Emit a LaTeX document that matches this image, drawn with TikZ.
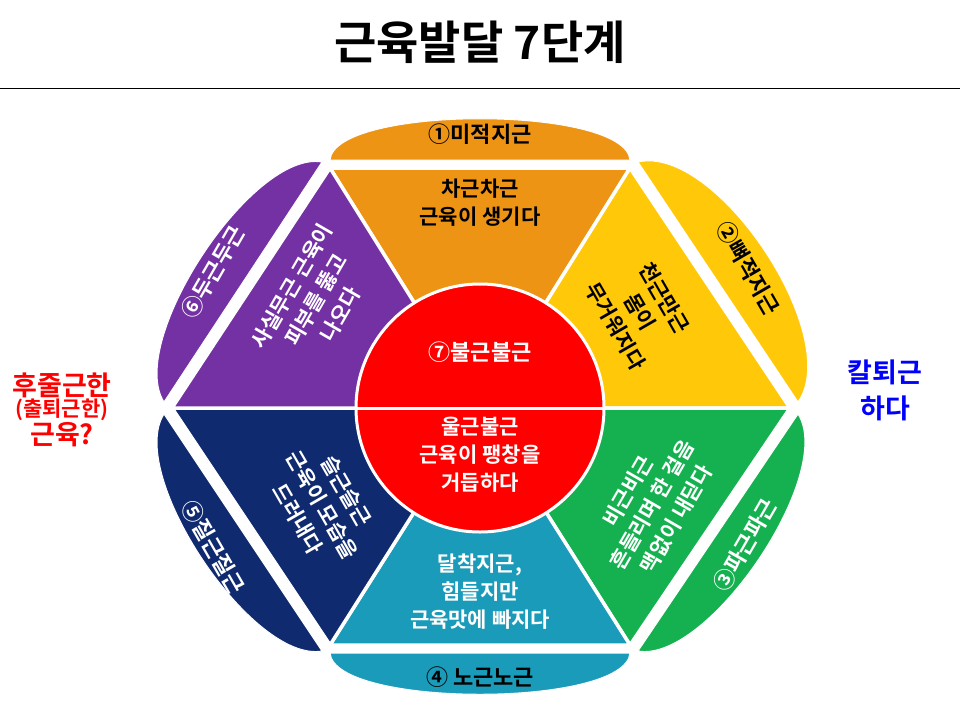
\documentclass[tikz,border=0pt]{standalone}
\usepackage{fontspec}
\setmainfont{Noto Sans CJK KR Bold}
\begin{document}
\begin{tikzpicture}[x=1pt,y=-1pt,
  seg/.style={draw=white,line width=3.5pt,line join=round},
  capshape/.style={draw=white,line width=1pt},
  lbl/.style={align=center,font=\fontsize{21}{28}\selectfont,inner sep=0pt},
  cl/.style={font=\fontsize{22}{26}\selectfont,inner sep=0pt}]
\definecolor{cor}{HTML}{EE9414}
\definecolor{cye}{HTML}{FFC90A}
\definecolor{cgr}{HTML}{15B150}
\definecolor{cte}{HTML}{1A9BBA}
\definecolor{cnv}{HTML}{0F2A6E}
\definecolor{cpu}{HTML}{7331A3}
\useasboundingbox (0,0) rectangle (960,720);
\fill[white] (0,0) rectangle (960,720);
\node[font=\fontsize{46}{50}\selectfont] (title) at (480,42) {근육발달 7단계};
\draw[line width=0.8pt] (0,88) -- (960,88);
% triangles
\coordinate (O) at (480,408);
\coordinate (V1) at (330,168); \coordinate (V2) at (630,168);
\coordinate (V3) at (790,408); \coordinate (V4) at (630,645);
\coordinate (V5) at (330,645); \coordinate (V6) at (172,408);
\fill[cor,seg] (O)--(V1)--(V2)--cycle;
\fill[cye,seg] (O)--(V2)--(V3)--cycle;
\fill[cgr,seg] (O)--(V3)--(V4)--cycle;
\fill[cte,seg] (O)--(V4)--(V5)--cycle;
\fill[cnv,seg] (O)--(V5)--(V6)--cycle;
\fill[cpu,seg] (O)--(V6)--(V1)--cycle;
% caps
\fill[cor,capshape] (330,160) .. controls (335,105) and (625,105) .. (630,160) -- cycle;
\fill[cye,capshape] (638,162) .. controls (716,144) and (844,336) .. (798,402) -- cycle;
\fill[cgr,capshape] (798,414) .. controls (836,474) and (708,663) .. (638,651) -- cycle;
\fill[cte,capshape] (330,653) .. controls (335,708) and (625,708) .. (630,653) -- cycle;
\fill[cnv,capshape] (322,651) .. controls (252,663) and (126,474) .. (164,414) -- cycle;
\fill[cpu,capshape] (164,402) .. controls (126,342) and (252,150) .. (322,162) -- cycle;
% circle
\fill[red,draw=white,line width=3pt] (O) circle (124);
\draw[white,line width=3pt] (356,408) -- (604,408);
% texts
\node[lbl] (t1) at (480,203) {차근차근\\근육이 생기다};
\node[lbl,rotate=-60] (t2) at (640,312) {천근만근\\몸이\\무거워지다};
\node[lbl,white,rotate=60] (t3) at (652,505) {비근비근\\흔들리며 한 걸음\\맥없이 내딛다};
\node[lbl,white] (t4) at (480,592) {달착지근,\\힘들지만\\근육맛에 빠지다};
\node[lbl,white,rotate=-60] (t5) at (322,505) {슬근슬근\\근육이 모습을\\드러내다};
\node[lbl,white,rotate=60] (t6) at (316,300) {사실무근 근육이\\피부를 뚫고\\나오다};
\node[cl,white] (t7) at (480,352) {⑦불근불근};
\node[lbl,white] (t8) at (480,455) {울근불근\\근육이 팽창을\\거듭하다};
\node[cl] (c1) at (480,134) {①미적지근};
\node[cl,rotate=-60] (c2) at (748,268) {②뼈적지근};
\node[cl,white,rotate=60] (c3) at (745,545) {③파근파근};
\node[cl] (c4) at (480,677) {④ 노근노근};
\node[cl,white,rotate=-60] (c5) at (213,547) {⑤질근질근};
\node[cl,white,rotate=60] (c6) at (213,272) {⑥두근두근};
\node[align=center,red,inner sep=0pt] (L) at (62,410)
  {{\fontsize{27}{34}\selectfont 후줄근한}\\{\fontsize{21}{30}\selectfont (출퇴근한)}\\{\fontsize{27}{34}\selectfont 근육?}};
\node[align=center,blue,inner sep=0pt,font=\fontsize{27}{36}\selectfont] (R) at (885,390) {칼퇴근\\하다};
\end{tikzpicture}
\end{document}
